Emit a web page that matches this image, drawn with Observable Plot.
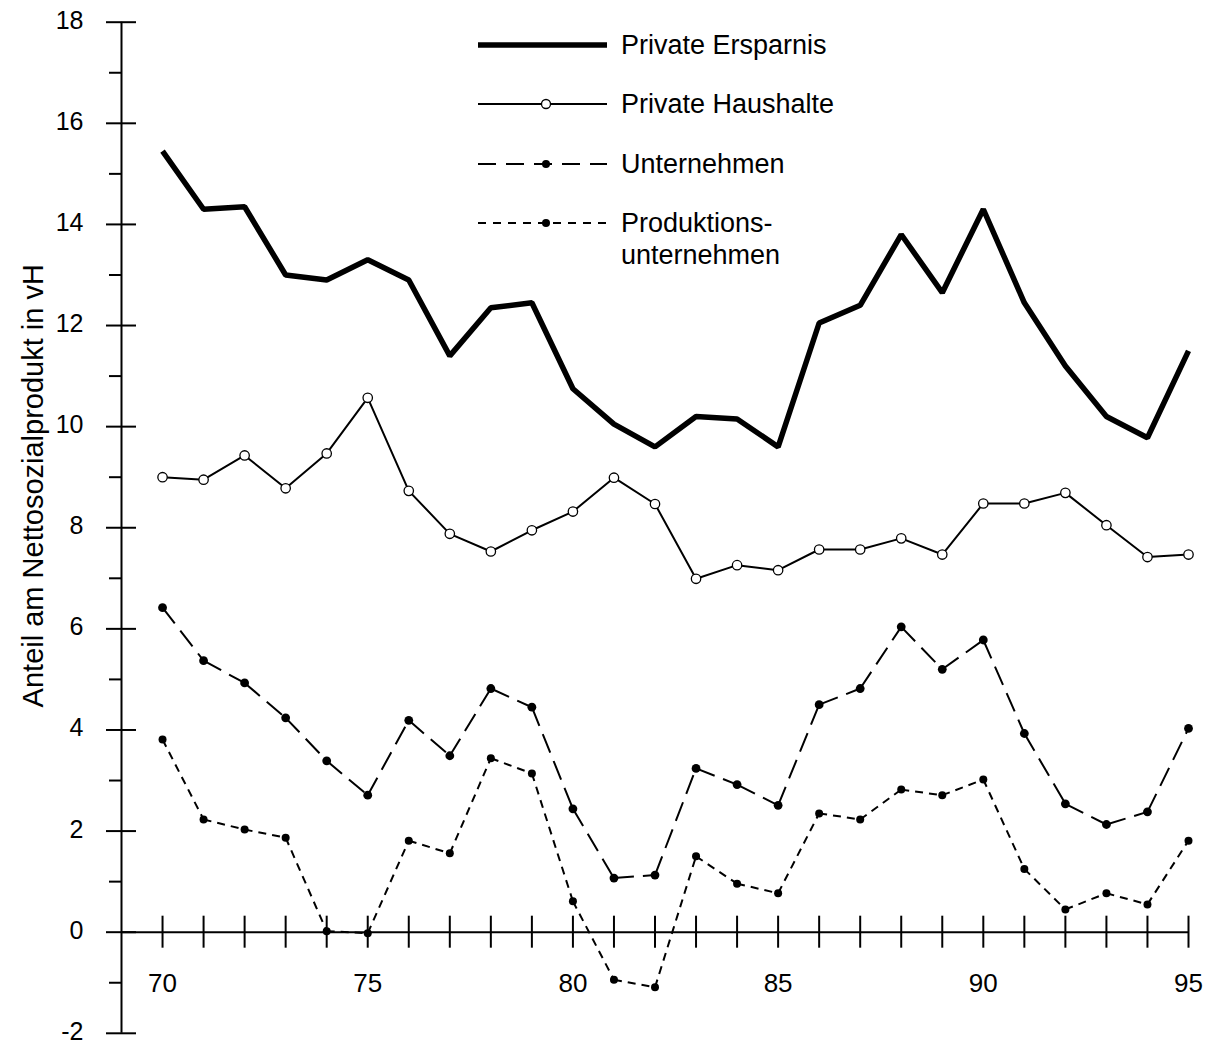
<!DOCTYPE html>
<html><head><meta charset="utf-8">
<script src="https://cdn.jsdelivr.net/npm/d3@7"></script>
<script src="https://cdn.jsdelivr.net/npm/@observablehq/plot@0.6"></script>
<style>
html,body{margin:0;padding:0;background:#fff;}
#wrap{position:relative;width:1216px;height:1045px;font-family:"Liberation Sans",Arial,sans-serif;}
#wrap svg{display:block;}
#legend{position:absolute;left:0;top:0;pointer-events:none;}
</style></head><body><div id="wrap"></div>
<script>
// ---------- data ----------
const years = [70,71,72,73,74,75,76,77,78,79,80,81,82,83,84,85,86,87,88,89,90,91,92,93,94,95];
const privateErsparnis = [15.45,14.3,14.35,13.0,12.9,13.3,12.9,11.4,12.35,12.45,10.75,10.05,9.6,10.2,10.15,9.6,12.05,12.4,13.8,12.65,14.3,12.45,11.2,10.2,9.78,11.5];
const privateHaushalte = [9.0,8.95,9.43,8.78,9.47,10.57,8.73,7.88,7.53,7.95,8.32,8.99,8.47,6.99,7.26,7.16,7.57,7.57,7.79,7.47,8.48,8.48,8.69,8.05,7.42,7.47];
const unternehmen = [6.42,5.37,4.93,4.24,3.39,2.71,4.19,3.49,4.82,4.45,2.44,1.07,1.13,3.24,2.92,2.51,4.5,4.82,6.04,5.2,5.78,3.93,2.54,2.13,2.38,4.03];
const produktionsunternehmen = [3.81,2.23,2.03,1.87,0.02,-0.02,1.81,1.56,3.44,3.14,0.61,-0.94,-1.09,1.5,0.96,0.77,2.35,2.23,2.82,2.71,3.02,1.25,0.45,0.77,0.55,1.81];
const yMajorTicks = [-2,0,2,4,6,8,10,12,14,16,18];
const yMinorTicks = [-1,1,3,5,7,9,11,13,15,17];
const xLabelYears = [70,75,80,85,90,95];
const yAxisLabel = "Anteil am Nettosozialprodukt in vH";
const seriesNames = ["Private Ersparnis","Private Haushalte","Unternehmen","Produktions-\nunternehmen"];

// ---------- helpers ----------
const FONT = "Liberation Sans, Arial, sans-serif";
const FS = 26;
const rows = vals => years.map((year,i) => ({year, value: vals[i]}));
const segs = vals => years.slice(1).map((year,i) => ({x1: years[i], y1: vals[i], x2: year, y2: vals[i+1]}));
const X0 = 69;

const chart = Plot.plot({
  width: 1216, height: 1045,
  marginLeft: 121, marginRight: 28, marginTop: 21.7, marginBottom: 12.2,
  x: {domain: [X0, 95], axis: null},
  y: {domain: [-2, 18], axis: null},
  style: {fontFamily: FONT, background: "white", color: "black", overflow: "visible"},
  marks: [
    // axes
    Plot.ruleX([X0], {stroke: "black", strokeWidth: 2}),
    Plot.ruleY([0], {x1: X0, x2: 95, stroke: "black", strokeWidth: 2}),
    Plot.ruleY(yMajorTicks, {y: d => d, x1: X0, x2: X0, insetLeft: -15, insetRight: -15, stroke: "black", strokeWidth: 2}),
    Plot.ruleY(yMinorTicks, {y: d => d, x1: X0, x2: X0, insetLeft: -12, insetRight: 0, stroke: "black", strokeWidth: 2}),
    Plot.ruleX(years, {x: d => d, y1: 0, y2: 0, insetTop: -16, insetBottom: -16, stroke: "black", strokeWidth: 2}),
    Plot.text(yMajorTicks, {x: X0, y: d => d, text: d => String(d), textAnchor: "end", dx: -38, dy: -1.5, fontSize: 25, fill: "black"}),
    Plot.text(xLabelYears, {x: d => d, y: 0, text: d => String(d), dy: 51, fontSize: FS, fill: "black"}),
    Plot.text([yAxisLabel], {frameAnchor: "left", textAnchor: "middle", text: d => d, rotate: -90, dx: -88, dy: -42, fontSize: 29, letterSpacing: 0.6, fill: "black"}),
    // series
    Plot.line(rows(privateErsparnis), {x: "year", y: "value", stroke: "black", strokeWidth: 5.5, strokeLinejoin: "miter", strokeLinecap: "butt"}),
    Plot.line(rows(privateHaushalte), {x: "year", y: "value", stroke: "black", strokeWidth: 2, strokeLinejoin: "miter"}),
    Plot.link(segs(unternehmen), {x1: "x1", y1: "y1", x2: "x2", y2: "y2", stroke: "black", strokeWidth: 2, strokeDasharray: "20,9"}),
    Plot.link(segs(produktionsunternehmen), {x1: "x1", y1: "y1", x2: "x2", y2: "y2", stroke: "black", strokeWidth: 2, strokeDasharray: "8,6"}),
    Plot.dot(rows(privateHaushalte), {x: "year", y: "value", r: 4.7, stroke: "black", strokeWidth: 1.3, fill: "white"}),
    Plot.dot(rows(unternehmen), {x: "year", y: "value", r: 4.4, fill: "black", stroke: "none"}),
    Plot.dot(rows(produktionsunternehmen), {x: "year", y: "value", r: 4, fill: "black", stroke: "none"})
  ]
});
const wrap = document.getElementById("wrap");
wrap.appendChild(chart);

// ---------- legend (overlay inside plot area) ----------
const legendRows = [
  {name: seriesNames[0], y: 45, width: 5.5, dash: null, marker: null},
  {name: seriesNames[1], y: 104, width: 2, dash: null, marker: "open"},
  {name: seriesNames[2], y: 164, width: 2, dash: "18,10", marker: "filled"},
  {name: seriesNames[3], y: 223, width: 2, dash: "8,7", marker: "filled"}
];
const lg = d3.create("svg").attr("id","legend").attr("width",1216).attr("height",300)
  .attr("font-family", FONT).attr("font-size", 27);
const g = lg.selectAll("g").data(legendRows).join("g");
g.append("line").attr("x1",478).attr("x2",607).attr("y1",d=>d.y).attr("y2",d=>d.y)
  .attr("stroke","black").attr("stroke-width",d=>d.width).attr("stroke-dasharray",d=>d.dash);
g.filter(d=>d.marker==="open").append("circle").attr("cx",546).attr("cy",d=>d.y).attr("r",4.5)
  .attr("fill","white").attr("stroke","black").attr("stroke-width",1.3);
g.filter(d=>d.marker==="filled").append("circle").attr("cx",546).attr("cy",d=>d.y).attr("r",4).attr("fill","black");
g.each(function(d){
  const t = d3.select(this).append("text").attr("x",621).attr("y",d.y).attr("fill","black");
  d.name.split("\n").forEach((s,i)=>{
    t.append("tspan").attr("x",621).attr("dy", i===0 ? "0.35em" : "1.18em").text(s);
  });
});
wrap.appendChild(lg.node());
</script></body></html>
